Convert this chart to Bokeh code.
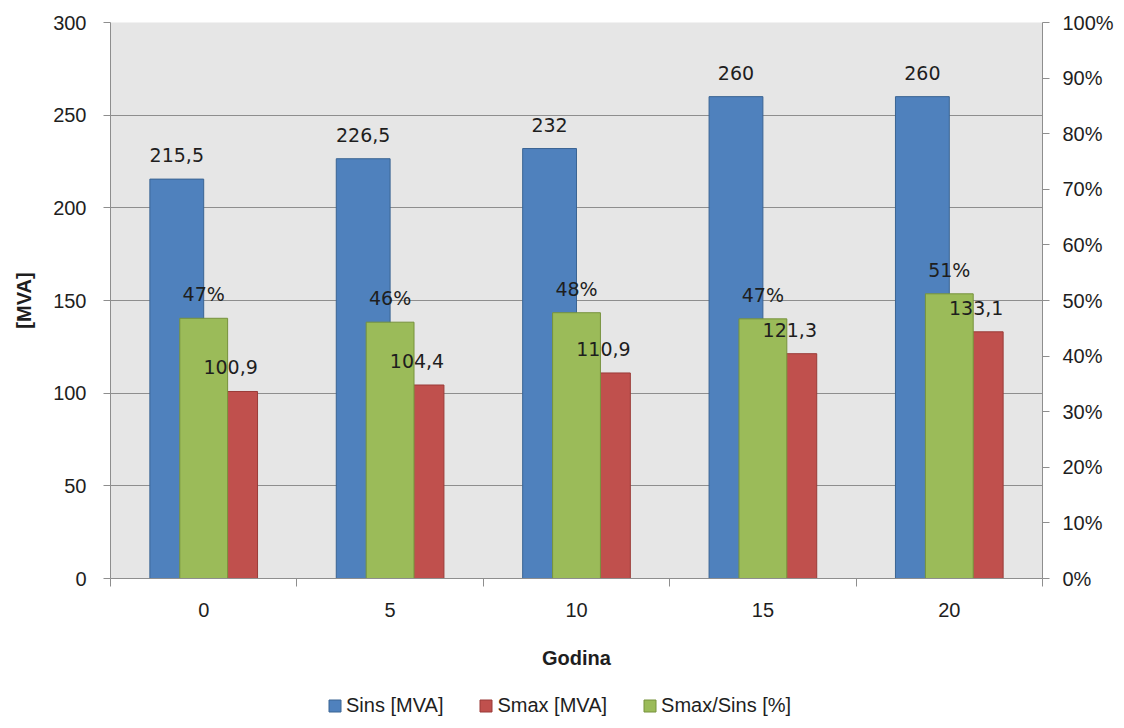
from bokeh.plotting import figure
from bokeh.layouts import column
from bokeh.models import (Range1d, LinearAxis, FixedTicker, NumeralTickFormatter,
                          ColumnDataSource, LabelSet, Legend, LegendItem)
from bokeh.core.properties import value
from bokeh.transform import dodge
from bokeh.embed import file_html
from bokeh.resources import INLINE

# ---- data ----
years = [0, 5, 10, 15, 20]
sins = [215.5, 226.5, 232, 260, 260]
smax = [100.9, 104.4, 110.9, 121.3, 133.1]
ratio = [0.468, 0.461, 0.478, 0.467, 0.512]
sins_labels = ["215,5", "226,5", "232", "260", "260"]
smax_labels = ["100,9", "104,4", "110,9", "121,3", "133,1"]
ratio_labels = ["47%", "46%", "48%", "47%", "51%"]
series_names = ["Sins [MVA]", "Smax [MVA]", "Smax/Sins [%]"]
left_ticks = [0, 50, 100, 150, 200, 250, 300]
right_ticks = [0, 0.1, 0.2, 0.3, 0.4, 0.5, 0.6, 0.7, 0.8, 0.9, 1.0]
cat_bounds = [-2.5, 2.5, 7.5, 12.5, 17.5, 22.5]

TICK_FONT = "Liberation Sans"
LBL_FONT = "DejaVu Sans"
GRAY = "#8E8E8E"
TXT = "#1E1E1E"
COLORS = [("#4F81BD", "#3A6493"), ("#C0504D", "#9A3B38"), ("#9BBB59", "#76923C")]

p = figure(width=1116, height=690, output_backend="svg", toolbar_location=None,
           x_range=Range1d(-2.5, 22.5), y_range=Range1d(0, 300),
           min_border_left=110, min_border_right=71, min_border_top=22,
           min_border_bottom=112,
           background_fill_color="#E6E6E6", border_fill_color="white")
p.outline_line_color = None
p.extra_y_ranges = {"pct": Range1d(0, 1)}

src = ColumnDataSource(dict(year=years, sins=sins, smax=smax, ratio=ratio,
                            sl=sins_labels, ml=smax_labels, rl=ratio_labels))

BW = 1.444
GW = 1.283
p.vbar(x=dodge("year", -BW / 2), top="sins", width=BW, source=src,
       fill_color=COLORS[0][0], line_color=COLORS[0][1], line_width=1)
p.vbar(x=dodge("year", BW / 2), top="smax", width=BW, source=src,
       fill_color=COLORS[1][0], line_color=COLORS[1][1], line_width=1)
p.vbar(x="year", top="ratio", width=GW, source=src, y_range_name="pct",
       fill_color=COLORS[2][0], line_color=COLORS[2][1], line_width=1)

common = dict(text_align="center", text_baseline="middle", text_font=value(LBL_FONT),
              text_font_size=value("19px"), text_color=TXT, y_offset=24, source=src)
p.add_layout(LabelSet(x=dodge("year", -BW / 2), y="sins", text="sl", **common))
p.add_layout(LabelSet(x=dodge("year", BW / 2), y="smax", text="ml", **common))
p.add_layout(LabelSet(x="year", y="ratio", text="rl", y_range_name="pct", **common))

# x axis
xa = p.xaxis[0]
xa.ticker = FixedTicker(ticks=years, minor_ticks=cat_bounds)
xa.major_tick_out = 0
xa.major_tick_in = 0
xa.minor_tick_in = 0
xa.minor_tick_out = 8
xa.minor_tick_line_color = GRAY
xa.axis_line_color = GRAY
xa.major_label_standoff = 16
xa.major_label_text_font = TICK_FONT
xa.major_label_text_font_size = "20px"
xa.major_label_text_color = TXT
xa.axis_label = "Godina"
xa.axis_label_standoff = 27
xa.axis_label_text_font = TICK_FONT
xa.axis_label_text_font_size = "20px"
xa.axis_label_text_font_style = "bold"
xa.axis_label_text_color = TXT

# left axis
ya = p.yaxis[0]
ya.ticker = FixedTicker(ticks=left_ticks)
ya.minor_tick_line_color = None
ya.major_tick_in = 0
ya.major_tick_out = 7
ya.major_tick_line_color = GRAY
ya.axis_line_color = GRAY
ya.major_label_standoff = 17
ya.major_label_text_font = TICK_FONT
ya.major_label_text_font_size = "20px"
ya.major_label_text_color = TXT
ya.axis_label = "[MVA]"
ya.axis_label_standoff = 15
ya.axis_label_text_font = TICK_FONT
ya.axis_label_text_font_size = "20px"
ya.axis_label_text_font_style = "bold"
ya.axis_label_text_color = TXT

# right axis
ra = LinearAxis(y_range_name="pct", ticker=FixedTicker(ticks=right_ticks),
                formatter=NumeralTickFormatter(format="0%"))
ra.minor_tick_line_color = None
ra.major_tick_in = 0
ra.major_tick_out = 7
ra.major_tick_line_color = GRAY
ra.axis_line_color = GRAY
ra.major_label_standoff = 13
ra.major_label_text_font = TICK_FONT
ra.major_label_text_font_size = "20px"
ra.major_label_text_color = TXT
p.add_layout(ra, "right")

# grid
p.xgrid.visible = False
p.ygrid.ticker = FixedTicker(ticks=left_ticks)
p.ygrid.grid_line_color = GRAY
p.ygrid.grid_line_width = 1

# ---- legend strip below the chart ----
lg = figure(width=1116, height=30, output_backend="svg", toolbar_location=None,
            x_range=Range1d(-2.5, 22.5), y_range=Range1d(1000, 1001),
            x_axis_location=None, y_axis_location=None,
            min_border=0, background_fill_color="white", border_fill_color="white")
lg.outline_line_color = None
lg.grid.visible = False
lr1 = lg.vbar(x="year", top="sins", width=BW, source=src,
              fill_color=COLORS[0][0], line_color=COLORS[0][1])
lr2 = lg.vbar(x="year", top="smax", width=BW, source=src,
              fill_color=COLORS[1][0], line_color=COLORS[1][1])
lr3 = lg.vbar(x="year", top="ratio", width=GW, source=src,
              fill_color=COLORS[2][0], line_color=COLORS[2][1])
legend = Legend(items=[LegendItem(label=series_names[0], renderers=[lr1]),
                       LegendItem(label=series_names[1], renderers=[lr2]),
                       LegendItem(label=series_names[2], renderers=[lr3])],
                orientation="horizontal", location=(217, 3),
                glyph_width=15, glyph_height=15, label_standoff=4, spacing=35,
                padding=0, margin=0, background_fill_alpha=0,
                border_line_color=None, label_text_font=TICK_FONT,
                label_text_font_size="20px", label_text_color=TXT)
lg.add_layout(legend)

layout = column(p, lg, spacing=0)
open("out.html", "w").write(file_html(layout, INLINE))
